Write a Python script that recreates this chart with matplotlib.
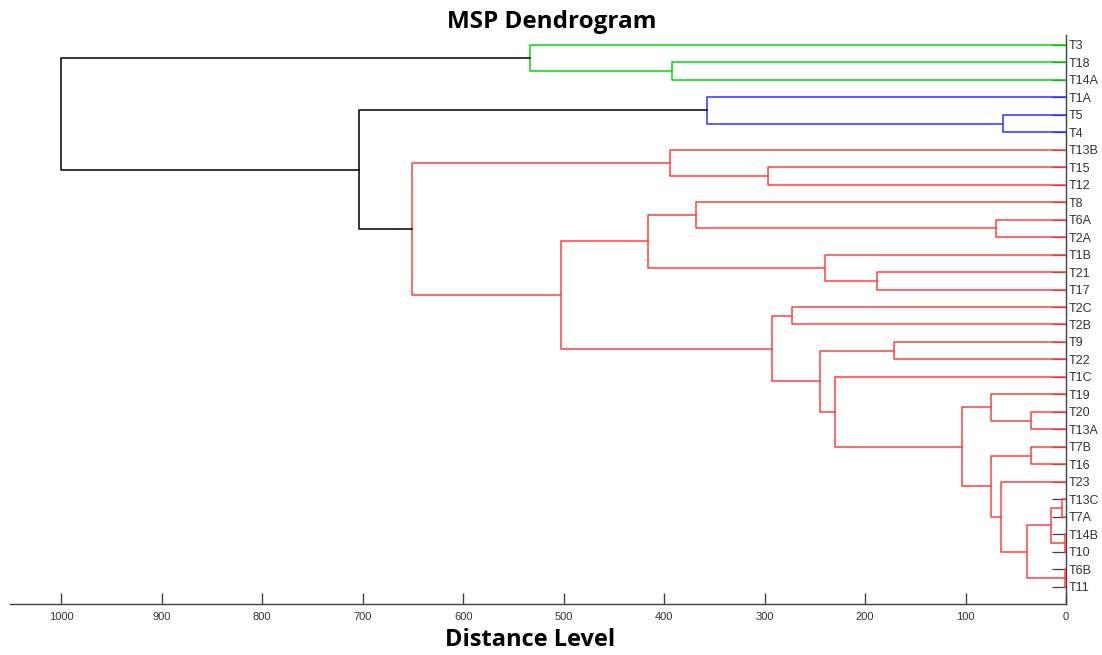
import matplotlib
matplotlib.use('Agg')
import matplotlib.pyplot as plt

# Cluster merges (MSP distance)
node = ['g1', 'g2', 'b1', 'b2', 'r1', 'r2', 'r3', 'r4', 'r5', 'r6', 'r7', 'r8',
        'r9', 'r10', 'r11', 'r12', 'r13', 'r14', 'r15', 'r16', 'r17', 'r18',
        'r19', 'r20', 'r21', 'r22', 'r23', 'r24', 'r25', 'k1', 'k2']
left = ['T18', 'T3', 'T5', 'T1A', 'T15', 'T13B', 'T6A', 'T8', 'T21', 'T1B', 'r4', 'T2C',
        'T9', 'T20', 'T19', 'T7B', 'T13C', 'T14B', 'r13', 'T6B', 'r15', 'T23',
        'r12', 'r11', 'T1C', 'r9', 'r8', 'r7', 'r2', 'b2', 'g2']
right = ['T14A', 'g1', 'T4', 'b1', 'T12', 'r1', 'T2A', 'r3', 'T17', 'r5', 'r6', 'T2B',
         'T22', 'T13A', 'r10', 'T16', 'T7A', 'T10', 'r14', 'T11', 'r16', 'r17',
         'r18', 'r19', 'r20', 'r21', 'r22', 'r23', 'r24', 'r25', 'k1']
height = [392, 533, 63, 357, 297, 394, 70, 368, 188, 240, 416, 273,
          171, 35, 75, 35, 4, 1, 15, 1, 39, 65,
          75, 104, 230, 245, 293, 503, 651, 704, 1000]
group = ['g', 'g', 'b', 'b'] + ['r'] * 25 + ['k', 'k']

colors = {'g': '#00dd00', 'b': '#3030ff', 'r': '#ff4040', 'k': '#000000'}

idx = {n: i for i, n in enumerate(node)}


def leaf_order(name):
    # ordre des feuilles en parcourant l'arbre depuis la racine
    if name not in idx:
        return [name]
    i = idx[name]
    return leaf_order(left[i]) + leaf_order(right[i])


leaves = leaf_order(node[-1])
ypos = {name: k + 1 for k, name in enumerate(leaves)}
hpos = {name: 0 for name in leaves}
for i, n in enumerate(node):
    ypos[n] = (ypos[left[i]] + ypos[right[i]]) / 2
    hpos[n] = height[i]

fig = plt.figure(figsize=(11.02, 6.55), dpi=100)
ax = fig.add_axes([10 / 1102, 51 / 655, 1056 / 1102, 569 / 655])
ax.set_axisbelow(True)

for i, n in enumerate(node):
    a, b = left[i], right[i]
    xs = [hpos[a], height[i], height[i], hpos[b]]
    ys = [ypos[a], ypos[a], ypos[b], ypos[b]]
    ax.plot(xs, ys, color=colors[group[i]], lw=1.1, zorder=3)

ax.set_xlim(1051, 0)
ax.set_ylim(33, 0.43)
ax.set_xticks(range(0, 1001, 100))
ax.set_xticklabels([str(v) for v in range(0, 1001, 100)])
ax.yaxis.tick_right()
ax.set_yticks([ypos[l] for l in leaves])
ax.set_yticklabels(leaves)

for s in ['top', 'left']:
    ax.spines[s].set_visible(False)
for s in ['bottom', 'right']:
    ax.spines[s].set_color('#404040')
    ax.spines[s].set_linewidth(1)

ax.tick_params(axis='x', direction='in', length=8, width=1, color='#404040',
               labelsize=8, labelcolor='#333333', pad=6)
ax.tick_params(axis='y', direction='in', length=10, width=0.9, color='#404040',
               labelsize=9, labelcolor='#333333', pad=2)
for t in ax.get_xticklabels() + ax.get_yticklabels():
    t.set_family('Liberation Sans')

fig.text(552 / 1102, 1 - 22 / 655, 'MSP Dendrogram', ha='center', va='center',
         fontsize=17.5, fontweight='bold', family='Open Sans')
fig.text(530 / 1102, 1 - 640 / 655, 'Distance Level', ha='center', va='center',
         fontsize=17, fontweight='bold', family='Open Sans')

fig.savefig('out.png', dpi=100)
